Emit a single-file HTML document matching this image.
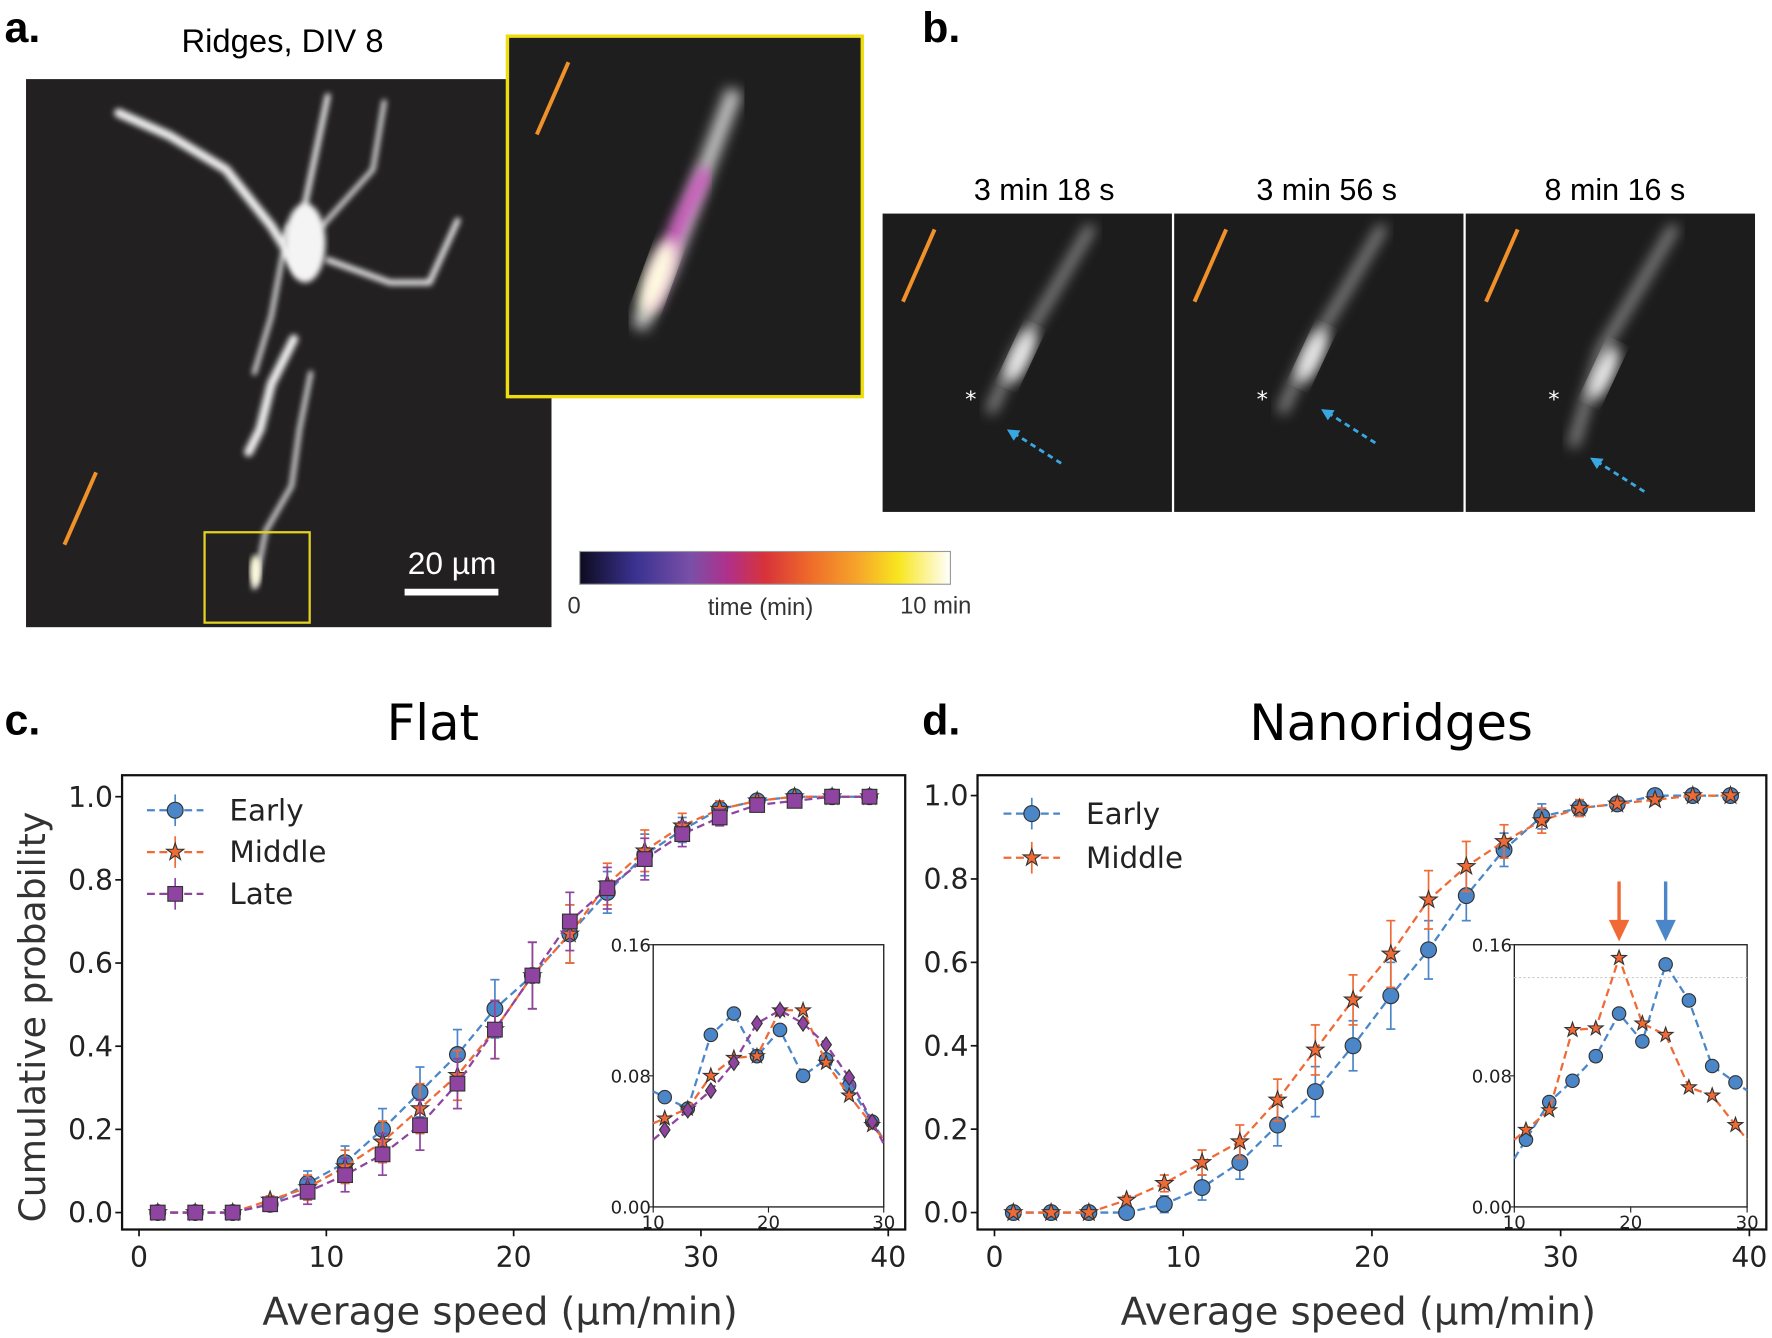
<!DOCTYPE html>
<html><head><meta charset="utf-8"><style>
html,body{margin:0;padding:0;background:#fff;}
svg{display:block;}
text{font-family:"DejaVu Sans","Liberation Sans",sans-serif;}
.lab{font-family:"Liberation Sans",sans-serif;}
</style></head><body>
<svg id="fig" width="1772" height="1338" viewBox="0 0 1568 1184" xmlns="http://www.w3.org/2000/svg">
<defs>
<filter id="blur6"><feGaussianBlur stdDeviation="6"/></filter>
<filter id="blur3"><feGaussianBlur stdDeviation="2.5"/></filter>
<linearGradient id="cbar" x1="0" x2="1" y1="0" y2="0">
<stop offset="0" stop-color="#0d0b1e"/><stop offset="0.15" stop-color="#3a3290"/><stop offset="0.3" stop-color="#7a4fa8"/><stop offset="0.4" stop-color="#b0308a"/><stop offset="0.5" stop-color="#d8323a"/><stop offset="0.62" stop-color="#ef6a2a"/><stop offset="0.75" stop-color="#f6a52a"/><stop offset="0.86" stop-color="#f8e61e"/><stop offset="1" stop-color="#ffffff"/>
</linearGradient>
</defs>
<!-- Panel a -->
<text class="lab" x="4" y="37" font-size="38" font-weight="bold">a.</text>
<text class="lab" x="250" y="46" font-size="29" text-anchor="middle">Ridges, DIV 8</text>
<g>
<rect x="23" y="70" width="465" height="485" fill="#222020"/>
<g filter="url(#blur3)" stroke="#eeeeee" stroke-linecap="round" fill="none">
<path d="M105 100 L150 120 L200 150 L240 200 L265 240" stroke-width="8"/>
<path d="M265 240 L270 180 L290 85" stroke-width="5"/>
<path d="M285 200 L330 150 L340 90" stroke-width="4"/>
<path d="M290 230 L345 250 L380 250 L405 195" stroke-width="5"/>
<path d="M260 300 L240 340 L230 380 L220 400" stroke-width="8"/>
<path d="M275 330 L265 380 L258 430 L235 470 L225 520" stroke-width="4"/>
<path d="M255 200 L240 280 L225 330" stroke-width="4"/>
</g>
<ellipse cx="270" cy="215" rx="18" ry="35" fill="#f4f4f4" filter="url(#blur3)"/>
<ellipse cx="226" cy="505" rx="5" ry="14" fill="#fffbe0" filter="url(#blur3)"/>
<rect x="181" y="471" width="93" height="80" fill="none" stroke="#e3d222" stroke-width="2"/>
<line x1="57" y1="482" x2="85" y2="418" stroke="#f0912a" stroke-width="3.5"/>
<line x1="358" y1="524" x2="441" y2="524" stroke="#fff" stroke-width="6"/>
<text class="lab" x="400" y="508" font-size="28" fill="#fff" text-anchor="middle">20 µm</text>
</g>
<g>
<rect x="449" y="32" width="314" height="319" fill="#1e1e1e" stroke="#eedd10" stroke-width="3"/>
<path d="M565 290 L590 240 L620 160 L650 80" stroke="#ccc" stroke-width="14" fill="none" filter="url(#blur6)"/>
<path d="M575 270 L600 200 L625 150" stroke="#d050c0" stroke-width="12" fill="none" filter="url(#blur6)"/>
<ellipse cx="582" cy="245" rx="12" ry="35" fill="#fffce0" filter="url(#blur6)" transform="rotate(20 582 245)"/>
<line x1="475" y1="119" x2="503" y2="55" stroke="#f0912a" stroke-width="3.5"/>
</g>
<g>
<rect x="513" y="488" width="328" height="29" fill="url(#cbar)" stroke="#999" stroke-width="1"/>
<text class="lab" x="508" y="543" font-size="21" fill="#333" text-anchor="middle">0</text>
<text class="lab" x="673" y="544" font-size="21" fill="#333" text-anchor="middle">time (min)</text>
<text class="lab" x="828" y="543" font-size="21" fill="#333" text-anchor="middle">10 min</text>
</g>
<!-- Panel b -->
<text class="lab" x="816" y="37" font-size="38" font-weight="bold">b.</text>
<g id="bpanels"></g>
<!-- Panel c,d -->
<text class="lab" x="4" y="650" font-size="38" font-weight="bold">c.</text>
<text class="lab" x="816" y="650" font-size="38" font-weight="bold">d.</text>
<g id="charts"></g>
</svg>
<script>
const NS="http://www.w3.org/2000/svg";
function mk(tag,attrs,parent,txt){const e=document.createElementNS(NS,tag);for(const k in attrs)e.setAttribute(k,attrs[k]);if(txt!==undefined)e.textContent=txt;parent.appendChild(e);return e;}

// ---- panel b frames
const bTitles=["3 min 18 s","3 min 56 s","8 min 16 s"];
const bg=document.getElementById('bpanels');
bTitles.forEach((t,i)=>{
  const x0=[781,1039,1297][i];
  const g=mk('g',{},bg);
  
  
  mk('rect',{x:x0,y:189,width:256,height:264,fill:'#1c1c1c'},g);
  mk('path',{d:`M${x0+95} ${i==2?395:365} L${x0+120} 310 L${x0+150} 260 L${x0+185} 200`,stroke:'#9a9a9a','stroke-width':8,fill:'none',filter:'url(#blur6)'},g);
  mk('ellipse',{cx:x0+122,cy:i==2?330:315,rx:9,ry:26,fill:'#eee',filter:'url(#blur6)',transform:`rotate(25 ${x0+122} ${i==2?330:315})`},g);
  mk('line',{x1:x0+18,y1:267,x2:x0+46,y2:203,stroke:'#f0912a','stroke-width':3.5},g);
  mk('text',{x:x0+78,y:360,'font-size':20,fill:'#fff','text-anchor':'middle'},g,'*');
  const ax=x0+[110,130,110][i], ay=[380,362,405][i];
  mk('line',{x1:ax+48,y1:ay+30,x2:ax+4,y2:ay+2,stroke:'#3aa8e0','stroke-width':2.5,'stroke-dasharray':'5,4'},g);
  mk('path',{d:`M${ax} ${ay} l12 1 l-6 9 z`,fill:'#3aa8e0'},g);
  const tt=mk('text',{x:x0+(i==0?143:i==1?135:132),y:177,'font-size':27,'text-anchor':'middle',class:'lab'},bg,t);
  
  
});

// ---- chart data
const xs=[1,3,5,7,9,11,13,15,17,19,21,23,25,27,29,31,33,35,37,39];
const flatEarly=[0,0,0,0.02,0.07,0.12,0.20,0.29,0.38,0.49,0.57,0.67,0.77,0.86,0.92,0.97,0.99,1.0,1.0,1.0];
const flatMiddle=[0,0,0,0.03,0.06,0.11,0.17,0.25,0.33,0.44,0.57,0.67,0.79,0.87,0.93,0.97,0.99,1.0,1.0,1.0];
const flatLate=[0,0,0,0.02,0.05,0.09,0.14,0.21,0.31,0.44,0.57,0.70,0.78,0.85,0.91,0.95,0.98,0.99,1.0,1.0];
const flatErr=[0,0,0,0.01,0.03,0.04,0.05,0.06,0.06,0.07,0.08,0.07,0.05,0.05,0.03,0.02,0.01,0,0,0];
const nanoEarly=[0,0,0,0,0.02,0.06,0.12,0.21,0.29,0.40,0.52,0.63,0.76,0.87,0.95,0.97,0.98,1.0,1.0,1.0];
const nanoMiddle=[0,0,0,0.03,0.07,0.12,0.17,0.27,0.39,0.51,0.62,0.75,0.83,0.89,0.94,0.97,0.98,0.99,1.0,1.0];
const nanoErr=[0,0,0,0.01,0.02,0.03,0.04,0.05,0.06,0.06,0.08,0.07,0.06,0.04,0.03,0.02,0.01,0.01,0,0];
const insetX=[11,13,15,17,19,21,23,25,27,29];
const flatInEarly=[0.067,0.06,0.105,0.118,0.092,0.108,0.08,0.09,0.074,0.052];
const flatInMiddle=[0.054,0.06,0.08,0.091,0.092,0.12,0.12,0.088,0.068,0.05];
const flatInLate=[0.047,0.059,0.071,0.088,0.112,0.12,0.112,0.099,0.079,0.052];
const nanoInEarly=[0.041,0.064,0.077,0.092,0.118,0.101,0.148,0.126,0.086,0.076];
const nanoInMiddle=[0.047,0.059,0.108,0.109,0.152,0.112,0.105,0.073,0.068,0.05];
const xTicks=[0,10,20,30,40];
const yTicks=[0,0.2,0.4,0.6,0.8,1.0];
const insetXTicks=[10,20,30];
const insetYTicks=[0,0.08,0.16];

const C={early:'#4a86c8',middle:'#ef6a35',late:'#8e44a0'};
const root=document.getElementById('charts');

function marker(g,type,x,y,color,s){
  s=s||1;
  if(type==='o') return mk('circle',{cx:x,cy:y,r:7*s,fill:color,stroke:'#333','stroke-width':1},g);
  if(type==='s') return mk('rect',{x:x-6.5*s,y:y-6.5*s,width:13*s,height:13*s,fill:color,stroke:'#333','stroke-width':1},g);
  if(type==='d') return mk('path',{d:`M${x} ${y-8*s} L${x+5.5*s} ${y} L${x} ${y+8*s} L${x-5.5*s} ${y} Z`,fill:color,stroke:'#333','stroke-width':1},g);
  let p='';for(let k=0;k<10;k++){const r=(k%2?3.2:8)*s,a=-Math.PI/2+k*Math.PI/5;p+=(k?'L':'M')+(x+r*Math.cos(a)).toFixed(1)+' '+(y+r*Math.sin(a)).toFixed(1);}
  return mk('path',{d:p+'Z',fill:color,stroke:'#333','stroke-width':1},g);
}

function chart(o){
  const g=mk('g',{},root);
  
  
  const X=v=>o.x0+(v-0)/40*(o.x40-o.x0), Y=v=>o.y0-v*(o.y0-o.y1);
  const t=mk('text',{x:o.titleX,y:655,'font-size':44,'text-anchor':'middle'},g,o.title);
  
  
  mk('rect',{x:o.bx,y:686,width:o.bw,height:402,fill:'#fff',stroke:'#111','stroke-width':2},g);
  xTicks.forEach(v=>{mk('line',{x1:X(v),x2:X(v),y1:1088,y2:1094,stroke:'#111','stroke-width':1.5},g);
    const tl=mk('text',{x:X(v),y:1121,'font-size':25,'text-anchor':'middle',fill:'#222'},g,String(v));
    
    });
  yTicks.forEach(v=>{mk('line',{x1:o.bx-6,x2:o.bx,y1:Y(v),y2:Y(v),stroke:'#111','stroke-width':1.5},g);
    const tl=mk('text',{x:o.bx-8,y:Y(v)+9,'font-size':25,'text-anchor':'end',fill:'#222'},g,v.toFixed(1));
    
    });
  const xl=mk('text',{x:o.bx+o.bw/2-12,y:1172,'font-size':34,'text-anchor':'middle',fill:'#333'},g,'Average speed (µm/min)');
  
  
  o.series.forEach(s=>{
    const sg=mk('g',{},g);
    
    
    mk('polyline',{points:xs.map((x,i)=>X(x)+','+Y(s.vals[i])).join(' '),fill:'none',stroke:s.color,'stroke-width':2,'stroke-dasharray':'7,4'},sg);
    xs.forEach((x,i)=>{const e=s.err[i];if(e>0){mk('line',{x1:X(x),x2:X(x),y1:Y(s.vals[i]+e),y2:Y(s.vals[i]-e),stroke:s.color,'stroke-width':1.5},sg);
      mk('line',{x1:X(x)-4,x2:X(x)+4,y1:Y(s.vals[i]+e),y2:Y(s.vals[i]+e),stroke:s.color,'stroke-width':1.5},sg);
      mk('line',{x1:X(x)-4,x2:X(x)+4,y1:Y(s.vals[i]-e),y2:Y(s.vals[i]-e),stroke:s.color,'stroke-width':1.5},sg);}
      const m=marker(sg,s.m,X(x),Y(s.vals[i]),s.color);
      
      });
  });
  // legend
  o.series.forEach((s,i)=>{
    const ly=o.legY+i*o.legDy, lx=o.legX;
    const lg=mk('g',{},g);
    
    
    mk('line',{x1:lx-25,x2:lx+25,y1:ly,y2:ly,stroke:s.color,'stroke-width':2,'stroke-dasharray':'7,4'},lg);
    mk('line',{x1:lx,x2:lx,y1:ly-14,y2:ly+14,stroke:s.color,'stroke-width':1.5},lg);
    marker(lg,s.m,lx,ly,s.color);
    mk('text',{x:lx+48,y:ly+9,'font-size':26,fill:'#222'},lg,s.label);
  });
  // inset
  const ig=mk('g',{},g);
  
  
  const ix0=o.ix, ix1=o.ix+o.iw, IX=v=>ix0+(v-10)/20*(ix1-ix0), IY=v=>1068-v/0.16*232;
  mk('rect',{x:ix0,y:836,width:o.iw,height:232,fill:'#fff',stroke:'#222','stroke-width':1.2},ig);
  if(o.dotted) mk('line',{x1:ix0,x2:ix1,y1:865,y2:865,stroke:'#ccc','stroke-width':1,'stroke-dasharray':'2,2'},ig);
  insetXTicks.forEach(v=>{mk('line',{x1:IX(v),x2:IX(v),y1:1068,y2:1073,stroke:'#222'},ig);mk('text',{x:IX(v),y:1087,'font-size':16,'text-anchor':'middle',fill:'#222'},ig,String(v));});
  insetYTicks.forEach(v=>{mk('line',{x1:ix0-4,x2:ix0,y1:IY(v),y2:IY(v),stroke:'#222'},ig);mk('text',{x:ix0-2,y:IY(v)+6,'font-size':16,'text-anchor':'end',fill:'#222'},ig,v.toFixed(2));});
  o.inset.forEach(s=>{
    const sg=mk('g',{},ig);
    
    
    const a=s.vals, e0=a[0]-(a[1]-a[0])*0.5, e1=a[a.length-1]-(a[a.length-2]-a[a.length-1])*0.5;
    const pts=[IX(10)+','+IY(e0)].concat(insetX.map((x,i)=>IX(x)+','+IY(a[i]))).concat([IX(30)+','+IY(e1)]);
    mk('polyline',{points:pts.join(' '),fill:'none',stroke:s.color,'stroke-width':2,'stroke-dasharray':'7,4'},sg);
    insetX.forEach((x,i)=>{const m=marker(sg,s.m,IX(x),IY(a[i]),s.color,0.85);
      
      });
  });
  if(o.arrows){o.arrows.forEach(ar=>{
    const x=IX(insetX[ar.idx]);
    const al=mk('g',{},ig);
    
    
    mk('line',{x1:x,x2:x,y1:780,y2:818,stroke:ar.color,'stroke-width':3},al);
    mk('path',{d:`M${x-9} 814 L${x+9} 814 L${x} 833 Z`,fill:ar.color},al);
  });}
}

chart({name:'flat-chart',title:'Flat',titleX:383,bx:108,bw:693,x0:123,x40:786,y0:1073,y1:705,
  series:[{label:'Early',vals:flatEarly,err:flatErr,color:C.early,m:'o'},{label:'Middle',vals:flatMiddle,err:flatErr,color:C.middle,m:'*'},{label:'Late',vals:flatLate,err:flatErr,color:C.late,m:'s'}],
  legX:155,legY:717,legDy:37,ix:578,iw:204,
  inset:[{vals:flatInEarly,color:C.early,m:'o'},{vals:flatInMiddle,color:C.middle,m:'*'},{vals:flatInLate,color:C.late,m:'d'}]});
chart({name:'nanoridges-chart',title:'Nanoridges',titleX:1231,bx:865,bw:698,x0:880,x40:1548,y0:1073,y1:704,
  series:[{label:'Early',vals:nanoEarly,err:nanoErr,color:C.early,m:'o'},{label:'Middle',vals:nanoMiddle,err:nanoErr,color:C.middle,m:'*'}],
  legX:913,legY:720,legDy:39,ix:1340,iw:206,dotted:true,
  inset:[{vals:nanoInEarly,color:C.early,m:'o'},{vals:nanoInMiddle,color:C.middle,m:'*'}],
  arrows:[{idx:4,color:C.middle},{idx:6,color:C.early}]});

const yl=mk('text',{x:0,y:0,'font-size':32,'text-anchor':'middle',fill:'#333',transform:'translate(40 900) rotate(-90)'},root,'Cumulative probability');


</script>
</body></html>
